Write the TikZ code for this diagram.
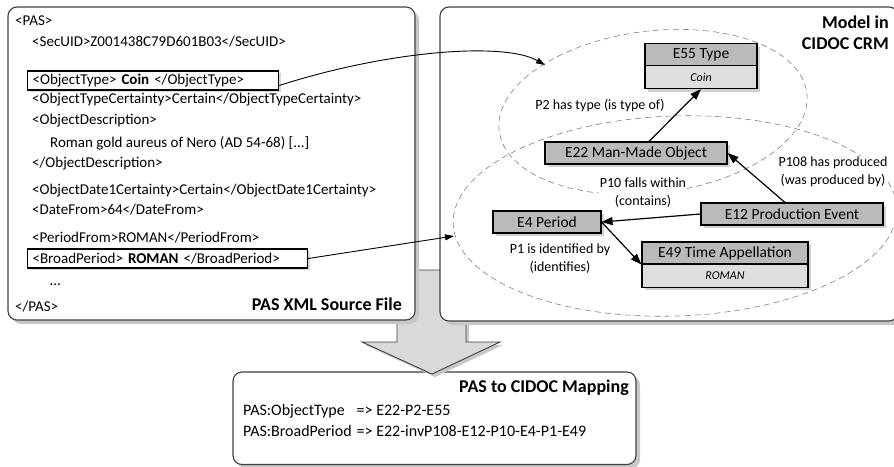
\documentclass[tikz,border=0pt]{standalone}
\usepackage{fontspec}
\setmainfont{Carlito}
\usetikzlibrary{positioning,shadows,arrows.meta}

\tikzset{
  panel/.style={draw=black!75, line width=1.1pt, fill=white, rounded corners=9pt,
    drop shadow={shadow xshift=4pt, shadow yshift=-4pt, fill=black!22, opacity=1}},
  xmlline/.style={anchor=west, inner sep=0pt, font=\fontsize{15}{17}\selectfont},
  srcbox/.style={draw=black, line width=1.2pt, fill=white, anchor=west, inner xsep=5pt,
    inner ysep=0pt, minimum height=19pt, font=\fontsize{15}{17}\selectfont,
    drop shadow={shadow xshift=2pt, shadow yshift=-2pt, fill=black!15, opacity=1}},
  paneltitle/.style={inner sep=0pt, align=right, font=\fontsize{18}{21}\bfseries\selectfont},
  entity/.style={draw=black, line width=1.1pt, fill=black!27, minimum height=22pt,
    inner sep=0pt, font=\fontsize{15.5}{18}\selectfont,
    drop shadow={shadow xshift=3pt, shadow yshift=-3pt, fill=black!18, opacity=1}},
  entval/.style={draw=black, line width=1.1pt, fill=black!13, minimum height=23pt,
    inner sep=0pt, font=\fontsize{12}{14}\itshape\selectfont,
    drop shadow={shadow xshift=3pt, shadow yshift=-3pt, fill=black!18, opacity=1}},
  rel/.style={line width=1.2pt, -{Triangle[length=11pt,width=8pt]}},
  rellabel/.style={fill=white, inner sep=1pt, align=center, font=\fontsize{14}{18}\selectfont},
  region/.style={draw=black!50, line width=0.6pt, dash pattern=on 6pt off 4pt},
  link/.style={line width=0.9pt, -{Triangle[length=9pt,width=6pt]}},
  bigarrow/.style={draw=black!75, fill=black!15, line width=0.9pt,
    drop shadow={shadow xshift=3pt, shadow yshift=-3pt, fill=black!22, opacity=1}},
  maptext/.style={anchor=west, inner sep=0pt, font=\fontsize{16}{21}\selectfont}
}

\begin{document}
\begin{tikzpicture}[x=1pt, y=-1pt]
  \useasboundingbox (0,0) rectangle (894,466);

  % mapping box and the big arrow
  \draw[panel] (233,372) rectangle (636,464.5);
  \node[paneltitle, anchor=east] (maptitle) at (629,388) {PAS to CIDOC Mapping};
  \node[maptext] (maprows) at (243,421.5) {%
    \begin{tabular}{@{}l@{\hspace{5pt}}l@{}}
      PAS:ObjectType & => E22-P2-E55\\
      PAS:BroadPeriod & => E22-invP108-E12-P10-E4-P1-E49
    \end{tabular}};
  \filldraw[bigarrow] (397,270) -- (397,342) -- (362,342) -- (432,374)
    -- (500,342) -- (466,342) -- (466,270) -- cycle;

  % source file
  \draw[panel] (8,7) rectangle (415,320);
  \node[xmlline] (pasopen) at (15,21) {<PAS>};
  \node[xmlline] (secuid) at (32,42) {<SecUID>Z001438C79D601B03</SecUID>};
  \node[srcbox, text width=241pt] (objtype) at (27,80.5) {<ObjectType> \textbf{Coin} </ObjectType>};
  \node[xmlline] (typecert) at (32,100) {<ObjectTypeCertainty>Certain</ObjectTypeCertainty>};
  \node[xmlline] (descopen) at (32,121) {<ObjectDescription>};
  \node[xmlline] (desc) at (50,143) {Roman gold aureus of Nero (AD 54-68) [...]};
  \node[xmlline] (descclose) at (32,164) {</ObjectDescription>};
  \node[xmlline] (datecert) at (32,191) {<ObjectDate1Certainty>Certain</ObjectDate1Certainty>};
  \node[xmlline] (datefrom) at (32,210) {<DateFrom>64</DateFrom>};
  \node[xmlline] (periodfrom) at (32,238) {<PeriodFrom>ROMAN</PeriodFrom>};
  \node[srcbox, text width=270pt] (broad) at (27,258.5) {<BroadPeriod> \textbf{ROMAN} </BroadPeriod>};
  \node[xmlline] (dots) at (50,285) {\ldots};
  \node[xmlline] (pasclose) at (15,307) {</PAS>};
  \node[paneltitle, anchor=east] (srctitle) at (402,304) {PAS XML Source File};

  % model
  \draw[panel] (440,7) rectangle (898,321);
  \node[paneltitle, anchor=east] (crmtitle) at (889,32.5) {Model in\\CIDOC CRM};
  \draw[region] (653,112) ellipse [x radius=155, y radius=81, rotate=7];
  \draw[region] (675,216) ellipse [x radius=222, y radius=100, rotate=2];

  \node[rellabel] (p2) at (600,106) {P2 has type (is type of)};
  \node[rellabel] (p108) at (833,172) {P108 has produced\\(was produced by)};
  \node[rellabel] (p10) at (643,193) {P10 falls within\\(contains)};
  \node[rellabel] (p1) at (560,258.5) {P1 is identified by\\(identifies)};

  \node[entity, minimum width=112pt] (e55) at (701,54.5) {E55 Type};
  \node[entval, minimum width=112pt, below=-1pt of e55] (e55val) {Coin};
  \node[entity, minimum width=182pt] (e22) at (636,153) {E22 Man-Made Object};
  \node[entity, minimum width=182pt] (e12) at (792,214) {E12 Production Event};
  \node[entity, minimum width=108pt] (e4) at (547,222) {E4 Period};
  \node[entity, minimum width=166pt] (e49) at (725,253) {E49 Time Appellation};
  \node[entval, minimum width=166pt, below=-1pt of e49] (e49val) {ROMAN};

  \draw[rel] ([xshift=13pt]e22.north) -- (e55val.south);
  \draw[rel] ([xshift=-7pt]e12.north) -- (e22.east);
  \draw[rel] (e12.west) -- (e4.east);
  \draw[rel] (e4.east) -- (e49.south west);

  % links from the source file
  \coordinate (typetip) at (545,65);
  \coordinate (periodtip) at (454,236);
  \draw[link] ([yshift=-5pt]objtype.east) .. controls (390,50) and (505,42) .. (typetip);
  \draw[link] (broad.east) -- (periodtip);
\end{tikzpicture}
\end{document}
